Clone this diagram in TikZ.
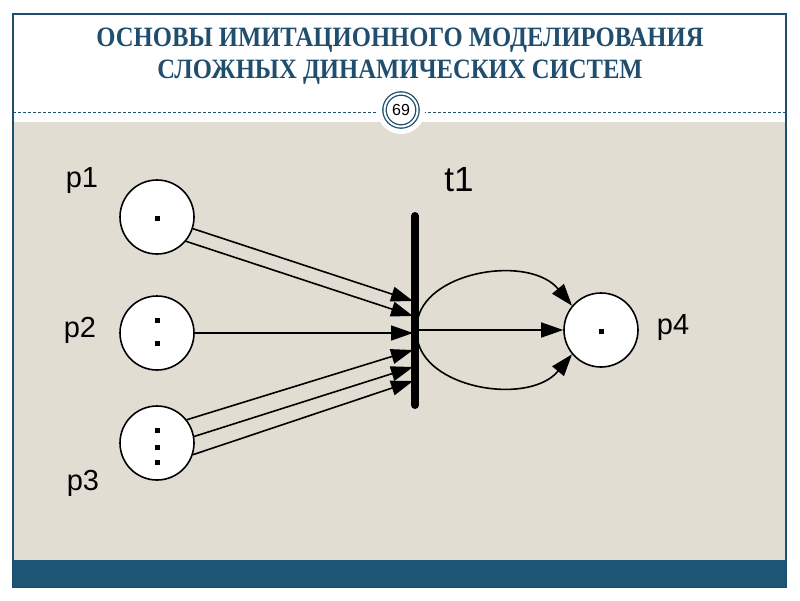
\documentclass[tikz,border=0pt]{standalone}
\usepackage{fontspec}
\setmainfont{Liberation Serif}
\newfontfamily\lsans{Liberation Sans}
\usetikzlibrary{arrows.meta}
\definecolor{navy}{HTML}{1F4E6E}
\definecolor{band}{HTML}{1E5676}
\definecolor{beige}{HTML}{E2DDD3}
\tikzset{place/.style={circle,draw,line width=1.6pt,fill=white,minimum size=74pt,inner sep=0pt},
 lbl/.style={font=\lsans\fontsize{29pt}{32pt}\selectfont},
 arc/.style={line width=1.6pt,-{Triangle[length=22pt,width=15pt]}},
 tok/.style={fill=black,minimum size=5pt,inner sep=0pt}}
\begin{document}
\begin{tikzpicture}[x=1pt,y=-1pt]
\useasboundingbox (0,0) rectangle (800,600);
\fill[white] (0,0) rectangle (800,600);
\fill[beige] (13,122) rectangle (786,560);
\fill[band] (13,560) rectangle (786,587);
\draw[navy,line width=1.3pt] (13,14) rectangle (786,587);
\draw[navy,densely dashed,line width=0.8pt] (13,112) -- (786,112);
\fill[white] (401,110) circle (24);
\node[circle,draw=navy,double=white,double distance=2pt,line width=1.3pt,minimum size=33pt,inner sep=0pt,font=\lsans\fontsize{16pt}{18pt}\selectfont] (pg) at (401,110) {69};
\node[font=\bfseries\fontsize{28pt}{32pt}\selectfont,text=navy,align=center,xscale=0.88,transform shape] (title) at (400,56) {ОСНОВЫ ИМИТАЦИОННОГО МОДЕЛИРОВАНИЯ\\СЛОЖНЫХ ДИНАМИЧЕСКИХ СИСТЕМ};
\node[place] (p1) at (157,217) {};
\node[place] (p2) at (157,333) {};
\node[place] (p3) at (157,443) {};
\node[place] (p4) at (601,330) {};
\node[tok] at (157,218) {};
\node[tok] at (157,320) {};
\node[tok] at (157,343) {};
\node[tok] at (157,430) {};
\node[tok] at (157,447) {};
\node[tok] at (157,462) {};
\node[tok] at (601,331) {};
\coordinate (bt) at (415,216);
\coordinate (bb) at (415,405);
\draw[line width=8pt,line cap=round] (bt) -- (bb);
\coordinate (a1) at (413,301); \coordinate (a2) at (413,316);
\coordinate (a3) at (413,333); \coordinate (a4) at (413,350);
\coordinate (a5) at (413,367); \coordinate (a6) at (413,381);
\draw[arc] (p1.-18) -- (a1);
\draw[arc] (p1.-40) -- (a2);
\draw[arc] (p2.east) -- (a3);
\draw[arc] (p3.38) -- (a4);
\draw[arc] (p3.10) -- (a5);
\draw[arc] (p3.-18) -- (a6);
\coordinate (o) at (418,330);
\draw[arc] (o) -- (p4.west);
\draw[arc] (418,318) .. controls (430,270) and (530,255) .. (p4.140);
\draw[arc] (418,342) .. controls (430,390) and (530,405) .. (p4.-140);
\node[lbl] (l1) at (82,181) {p1};
\node[lbl] (l2) at (80,330) {p2};
\node[lbl] (l3) at (83,483) {p3};
\node[lbl] (l4) at (673,328) {p4};
\node[font=\lsans\fontsize{35pt}{38pt}\selectfont] (t1) at (459,180) {t1};
\end{tikzpicture}
\end{document}
